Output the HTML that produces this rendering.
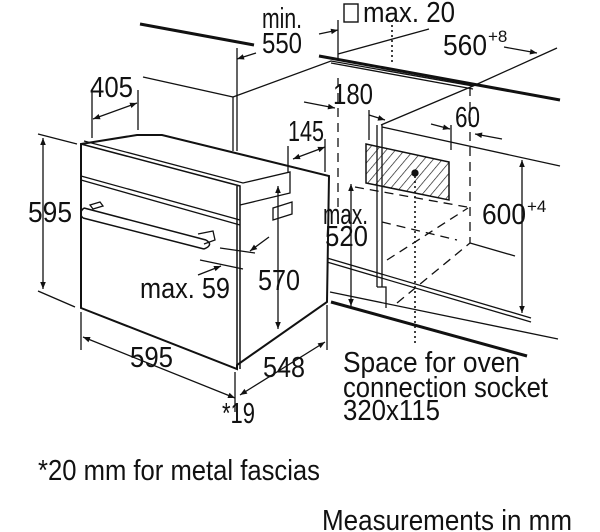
<!DOCTYPE html>
<html><head><meta charset="utf-8"><style>
html,body{margin:0;padding:0;background:#fff;}
svg{display:block;}
text{font-family:"Liberation Sans",Arial,sans-serif;font-size:29px;fill:#111;}
</style></head><body>
<svg width="600" height="532" viewBox="0 0 600 532" xmlns="http://www.w3.org/2000/svg">
<defs>
<marker id="a" viewBox="0 0 10 10" refX="10" refY="5" markerWidth="9" markerHeight="7" orient="auto-start-reverse" markerUnits="userSpaceOnUse"><path d="M0,1 L10,5 L0,9 Z" fill="#111"/></marker>
<pattern id="h" width="7" height="7" patternUnits="userSpaceOnUse" patternTransform="rotate(40)"><line x1="0" y1="0" x2="0" y2="7" stroke="#111" stroke-width="1.3"/></pattern>
</defs>
<g stroke="#111" fill="none" stroke-width="1.3">
<line x1="140" y1="24" x2="254" y2="45" stroke-width="3"/>
<line x1="319" y1="56" x2="560" y2="100" stroke-width="3"/>
<line x1="331" y1="63" x2="473" y2="89"/>
<path d="M233,97 L331,61 L473,86 L381,125"/>
<path d="M233,97 V151 M237,97 V151"/>
<path d="M377,125 V287 M382,125 V287 M377,287 H382"/>
<path d="M382,287 H386 V308"/>
<line x1="382" y1="127" x2="560" y2="166"/>
<line x1="473" y1="86" x2="557" y2="48"/>
<line x1="327" y1="258" x2="531" y2="318"/>
<line x1="327" y1="262" x2="531" y2="322"/>
<line x1="330" y1="292" x2="558" y2="339"/>
<line x1="331" y1="302" x2="527" y2="356" stroke-width="3"/>
<line x1="143" y1="77" x2="233" y2="97"/>
<polygon points="366,144 449,162 449,200 366,183" fill="url(#h)" stroke-width="1.5"/>
<circle cx="415" cy="173" r="3" fill="#111"/>
<line x1="392" y1="20" x2="392" y2="64" stroke-dasharray="2,3" stroke-width="1.6"/>
<line x1="415" y1="176" x2="415" y2="346" stroke-dasharray="2,3" stroke-width="1.6"/>
<g stroke-dasharray="9,6">
<line x1="355" y1="187" x2="467" y2="207"/>
<line x1="470" y1="87" x2="470" y2="243"/>
<line x1="382" y1="222" x2="457" y2="240"/>
<line x1="387" y1="260" x2="468" y2="208"/>
<line x1="397" y1="303" x2="470" y2="243"/>
<line x1="338" y1="78" x2="338" y2="212"/>
</g>
<line x1="470" y1="243" x2="515" y2="256"/>
<path d="M81,144 L137,135 L162,135 L329,176 L327,302 L237,365 L237,369 L81,308 Z" stroke-width="2" fill="#fff"/>
<path d="M81,144 L240,186 L240,369 M237,186 V365" stroke-width="1.5"/>
<path d="M84,141 L243,183 L290,172 V193 L240,205"/>
<path d="M81,176 L240,220 M81,180 L240,225"/>
<path d="M84,208 L206,240 M83,218 L204,249" stroke-width="1.5"/>
<path d="M84,208 Q78,213 83,218 M206,240 Q214,245 204,249" stroke-width="1.5"/>
<path d="M90,205 L100,202 L103,206 L93,209 Z"/>
<path d="M198,234 L213,231 L215,240 L204,244"/>
<path d="M273,208 L292,202 V214 L273,220 Z"/>
<line x1="38" y1="134" x2="77" y2="144"/>
<line x1="38" y1="291" x2="75" y2="307"/>
<line x1="92" y1="90" x2="92" y2="138"/>
<line x1="138" y1="90" x2="138" y2="130"/>
<line x1="325" y1="139" x2="325" y2="172"/>
<line x1="288" y1="146" x2="288" y2="172"/>
<line x1="81" y1="312" x2="81" y2="350"/>
<line x1="235" y1="372" x2="235" y2="412"/>
<line x1="327" y1="305" x2="327" y2="350"/>
<line x1="237" y1="48" x2="237" y2="97"/>
<line x1="338" y1="20" x2="338" y2="60"/>
<line x1="451" y1="125" x2="451" y2="150"/>
<line x1="369" y1="110" x2="369" y2="140"/>
<line x1="200" y1="260" x2="243" y2="269"/>
<line x1="220" y1="248" x2="255" y2="253"/>
<line x1="43" y1="138" x2="43" y2="289" marker-start="url(#a)" marker-end="url(#a)"/>
<line x1="93" y1="119" x2="137" y2="103" marker-start="url(#a)" marker-end="url(#a)"/>
<line x1="293" y1="159" x2="325" y2="147" marker-start="url(#a)" marker-end="url(#a)"/>
<line x1="304" y1="102" x2="335" y2="108" marker-end="url(#a)"/>
<line x1="369" y1="115" x2="385" y2="120" marker-end="url(#a)"/>
<line x1="431" y1="124" x2="450" y2="129" marker-end="url(#a)"/>
<line x1="502" y1="139" x2="475" y2="134" marker-end="url(#a)"/>
<line x1="522" y1="160" x2="522" y2="313" marker-start="url(#a)" marker-end="url(#a)"/>
<line x1="278" y1="186" x2="278" y2="329" marker-start="url(#a)" marker-end="url(#a)"/>
<line x1="351" y1="184" x2="351" y2="306" marker-start="url(#a)" marker-end="url(#a)"/>
<line x1="198" y1="275" x2="221" y2="266" marker-end="url(#a)"/>
<line x1="269" y1="237" x2="250" y2="251" marker-end="url(#a)"/>
<line x1="83" y1="337" x2="235" y2="398" marker-start="url(#a)" marker-end="url(#a)"/>
<line x1="240" y1="395" x2="325" y2="342" marker-start="url(#a)" marker-end="url(#a)"/>
<line x1="256" y1="53" x2="237" y2="59" marker-end="url(#a)"/>
<line x1="319" y1="34" x2="338" y2="30" marker-end="url(#a)"/>
<line x1="338" y1="54" x2="429" y2="29"/>
<line x1="504" y1="47" x2="537" y2="53" marker-end="url(#a)"/>
</g>
<rect x="344" y="4" width="14" height="18" fill="none" stroke="#111" stroke-width="1.4"/>
<text x="262" y="28" textLength="40" lengthAdjust="spacingAndGlyphs">min.</text>
<text x="262" y="53" textLength="40" lengthAdjust="spacingAndGlyphs">550</text>
<text x="363" y="22" textLength="92" lengthAdjust="spacingAndGlyphs">max. 20</text>
<text x="443" y="55" textLength="44" lengthAdjust="spacingAndGlyphs">560</text>
<text x="488" y="42" style="font-size:17px">+8</text>
<text x="90" y="97" textLength="43" lengthAdjust="spacingAndGlyphs">405</text>
<text x="333" y="104" textLength="40" lengthAdjust="spacingAndGlyphs">180</text>
<text x="455" y="127" textLength="25" lengthAdjust="spacingAndGlyphs">60</text>
<text x="288" y="141" textLength="36" lengthAdjust="spacingAndGlyphs">145</text>
<text x="28" y="222" textLength="44" lengthAdjust="spacingAndGlyphs">595</text>
<text x="323" y="224" textLength="45" lengthAdjust="spacingAndGlyphs">max.</text>
<text x="325" y="246" textLength="43" lengthAdjust="spacingAndGlyphs">520</text>
<text x="482" y="224" textLength="44" lengthAdjust="spacingAndGlyphs">600</text>
<text x="527" y="212" style="font-size:17px">+4</text>
<text x="140" y="298" textLength="90" lengthAdjust="spacingAndGlyphs">max. 59</text>
<text x="258" y="290" textLength="42" lengthAdjust="spacingAndGlyphs">570</text>
<text x="130" y="367" textLength="43" lengthAdjust="spacingAndGlyphs">595</text>
<text x="263" y="377" textLength="42" lengthAdjust="spacingAndGlyphs">548</text>
<text x="343" y="372" textLength="177" lengthAdjust="spacingAndGlyphs">Space for oven</text>
<text x="343" y="397" textLength="205" lengthAdjust="spacingAndGlyphs">connection socket</text>
<text x="343" y="420" textLength="97" lengthAdjust="spacingAndGlyphs">320x115</text>
<text x="222" y="423" textLength="33" lengthAdjust="spacingAndGlyphs">*19</text>
<text x="38" y="480" textLength="282" lengthAdjust="spacingAndGlyphs">*20 mm for metal fascias</text>
<text x="322" y="530" textLength="250" lengthAdjust="spacingAndGlyphs">Measurements in mm</text>
</svg>
</body></html>
